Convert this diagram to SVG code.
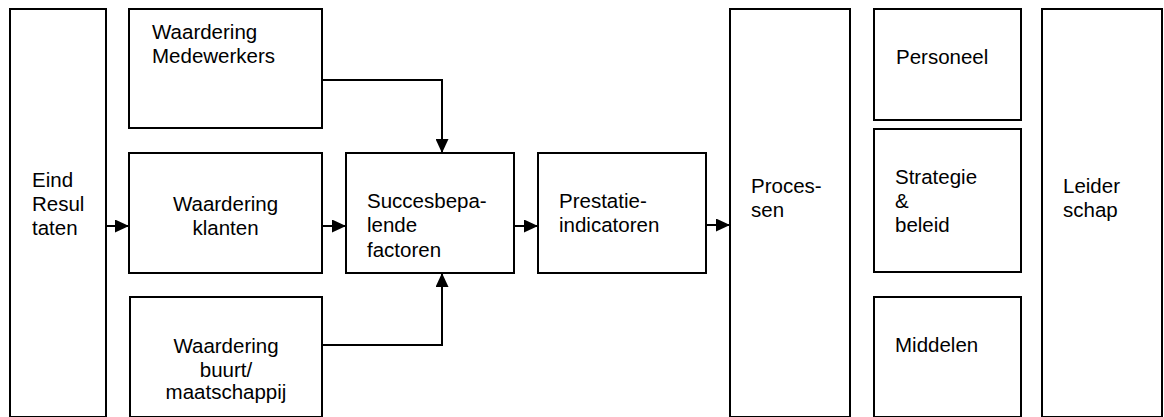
<svg xmlns="http://www.w3.org/2000/svg" width="1164" height="417" viewBox="0 0 1164 417">
<style>
.box{fill:#fff;stroke:#000;stroke-width:2}
.t{font-family:"Liberation Sans",Arial,sans-serif;font-size:20.5px;fill:#000}
.c{text-anchor:middle}
.ln{fill:none;stroke:#000;stroke-width:2}
</style>
<defs>
<marker id="ah" markerWidth="14" markerHeight="13" refX="14" refY="6.5" orient="auto" markerUnits="userSpaceOnUse">
<path d="M0,0 L14,6.5 L0,13 Z" fill="#000"/>
</marker>
</defs>
<rect width="1164" height="417" fill="#fff"/>
<g id="eind"><rect class="box" x="10" y="9" width="96" height="408"/>
<text class="t" x="32"><tspan x="32" y="187">Eind</tspan><tspan x="32" y="211">Resul</tspan><tspan x="32" y="235">taten</tspan></text></g>
<g id="medewerkers"><rect class="box" x="129" y="9" width="193" height="119"/>
<text class="t"><tspan x="152" y="39">Waardering</tspan><tspan x="152" y="63">Medewerkers</tspan></text></g>
<g id="klanten"><rect class="box" x="129" y="153" width="193" height="120"/>
<text class="t c"><tspan x="225.5" y="211">Waardering</tspan><tspan x="225.5" y="235">klanten</tspan></text></g>
<g id="buurt"><rect class="box" x="130" y="297" width="192" height="120"/>
<text class="t c"><tspan x="226" y="352.5">Waardering</tspan><tspan x="226" y="376.5">buurt/</tspan><tspan x="226" y="399">maatschappij</tspan></text></g>
<g id="succes"><rect class="box" x="346" y="153" width="168" height="120"/>
<text class="t"><tspan x="367" y="208">Succesbepa-</tspan><tspan x="367" y="232">lende</tspan><tspan x="367" y="257">factoren</tspan></text></g>
<g id="prestatie"><rect class="box" x="538" y="153" width="168" height="120"/>
<text class="t"><tspan x="559" y="208">Prestatie-</tspan><tspan x="559" y="232">indicatoren</tspan></text></g>
<g id="processen"><rect class="box" x="730" y="9" width="120" height="408"/>
<text class="t"><tspan x="751" y="193">Proces-</tspan><tspan x="751" y="217">sen</tspan></text></g>
<g id="personeel"><rect class="box" x="874" y="9" width="147" height="111"/>
<text class="t" x="896" y="64">Personeel</text></g>
<g id="strategie"><rect class="box" x="874" y="129" width="147" height="143"/>
<text class="t"><tspan x="895" y="184">Strategie</tspan><tspan x="895" y="208">&amp;</tspan><tspan x="895" y="232">beleid</tspan></text></g>
<g id="middelen"><rect class="box" x="874" y="297" width="147" height="120"/>
<text class="t" x="895" y="352">Middelen</text></g>
<g id="leiderschap"><rect class="box" x="1042" y="9" width="120" height="408"/>
<text class="t"><tspan x="1063" y="193">Leider</tspan><tspan x="1063" y="217">schap</tspan></text></g>
<g id="connectors">
<path class="ln" d="M106,226 H129" marker-end="url(#ah)"/>
<path class="ln" d="M322,226 H346" marker-end="url(#ah)"/>
<path class="ln" d="M514,226 H538" marker-end="url(#ah)"/>
<path class="ln" d="M706,225 H730" marker-end="url(#ah)"/>
<path class="ln" d="M322,80 H442 V153" marker-end="url(#ah)"/>
<path class="ln" d="M322,345 H442 V273" marker-end="url(#ah)"/>
</g>
</svg>
